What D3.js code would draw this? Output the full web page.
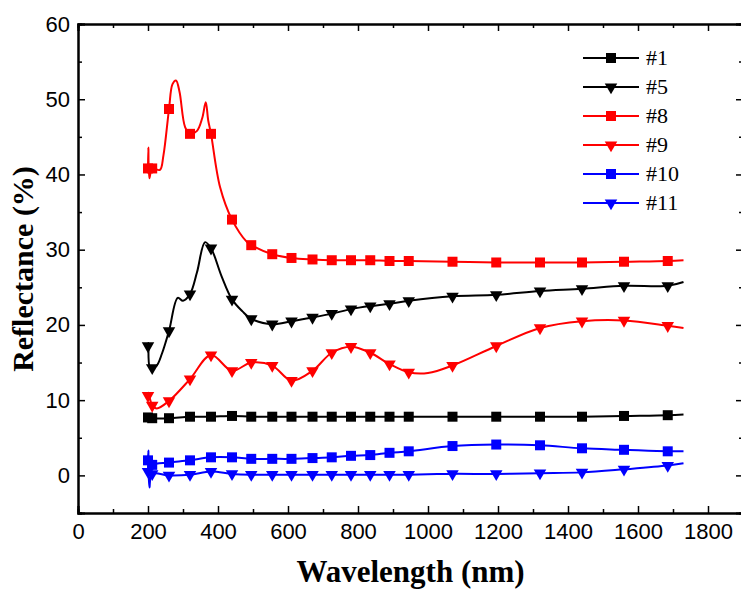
<!DOCTYPE html>
<html>
<head>
<meta charset="utf-8">
<script src="https://cdn.jsdelivr.net/npm/d3@7"></script>
<style>
  body { margin: 0; background: #fff; }
  svg { display: block; }
</style>
</head>
<body>
<svg id="chart" width="741" height="589"></svg>
<script>
// wavelengths (nm) where the markers sit, shared by every sample
var markerNm = [200, 212, 260, 320, 380, 440, 495, 555, 610, 670, 725, 780, 835, 890, 945, 1070, 1195, 1320, 1440, 1560, 1685];

// reflectance (%) at the markers
var m1  = [7.7, 7.6, 7.6, 7.8, 7.8, 7.9, 7.8, 7.8, 7.8, 7.8, 7.8, 7.8, 7.8, 7.8, 7.8, 7.8, 7.8, 7.8, 7.8, 7.9, 8.0];
var m5  = [17.2, 14.3, 19.2, 24.1, 30.2, 23.4, 20.8, 20.1, 20.5, 21.0, 21.5, 22.1, 22.5, 22.8, 23.2, 23.8, 24.0, 24.5, 24.8, 25.2, 25.2];
var m8  = [40.8, 40.8, 48.7, 45.4, 45.4, 34.0, 30.6, 29.4, 28.9, 28.7, 28.6, 28.6, 28.6, 28.5, 28.5, 28.4, 28.3, 28.3, 28.3, 28.4, 28.5];
var m9  = [10.6, 9.3, 9.9, 12.8, 16.0, 13.9, 15.0, 14.6, 12.6, 13.9, 16.3, 17.1, 16.3, 14.8, 13.7, 14.6, 17.2, 19.6, 20.5, 20.6, 19.9];
var m10 = [2.0, 1.4, 1.7, 2.0, 2.4, 2.4, 2.2, 2.2, 2.2, 2.3, 2.4, 2.6, 2.7, 3.0, 3.2, 3.9, 4.1, 4.0, 3.6, 3.4, 3.2];
var m11 = [0.5, 0.2, 0.0, 0.1, 0.5, 0.2, 0.1, 0.1, 0.1, 0.1, 0.1, 0.1, 0.1, 0.1, 0.1, 0.2, 0.2, 0.3, 0.4, 0.8, 1.3];

// extra spectrum points between markers (peaks, spikes, end of scan)
var e1  = [[1730, 8.1]];
var e5  = [[201, 17.6], [205, 14.4], [225, 14.6], [240, 16.2], [285, 23.6], [300, 23.2], [340, 27.0], [363, 31.0], [410, 26.5], [470, 21.8], [1730, 25.7]];
var e8  = [[201, 43.6], [204, 39.5], [234, 40.6], [244, 42.5], [270, 52.0], [280, 52.5], [290, 51.0], [306, 46.3], [340, 45.8], [355, 47.5], [365, 49.6], [372, 47.2], [406, 38.3], [483, 31.0], [1730, 28.6]];
var e9  = [[201, 11.0], [225, 8.9], [1000, 13.6], [1730, 19.6]];
var e10 = [[201, 3.3], [204, 1.0], [1730, 3.2]];
var e11 = [[201, 2.0], [204, -1.6], [1730, 1.6]];

var names   = ["#1", "#5", "#8", "#9", "#10", "#11"];
var colors  = ["#000000", "#000000", "#ff0000", "#ff0000", "#0000ff", "#0000ff"];
var shapes  = ["square", "tri", "square", "tri", "square", "tri"];
var markers = [m1, m5, m8, m9, m10, m11];
var extras  = [e1, e5, e8, e9, e10, e11];

var xTicks = [0, 200, 400, 600, 800, 1000, 1200, 1400, 1600, 1800];
var yTicks = [0, 10, 20, 30, 40, 50, 60];

var svg = d3.select("#chart");
var pLeft = 78, pRight = 743, pTop = 24, pBottom = 513;

var x = d3.scaleLinear().domain([0, 1900]).range([pLeft, pRight]);
var y = d3.scaleLinear().domain([-5, 60]).range([pBottom, pTop]);

function styleAxis(g) {
  g.select(".domain").attr("stroke", "#000").attr("stroke-width", 2);
  g.selectAll(".tick line").attr("stroke", "#000").attr("stroke-width", 1.5);
  g.selectAll(".tick text")
    .attr("fill", "#000")
    .style("font-family", "'Liberation Sans', Arial, sans-serif")
    .style("font-size", "22px");
}

var minorX = d3.range(100, 1900, 200);
var minorY = d3.range(-5, 60, 10);

// bottom
svg.append("g").attr("transform", "translate(0," + pBottom + ")")
  .call(d3.axisBottom(x).tickValues(xTicks).tickSize(-7).tickPadding(10).tickFormat(d3.format("d")))
  .call(styleAxis);
svg.append("g").attr("transform", "translate(0," + pBottom + ")")
  .call(d3.axisBottom(x).tickValues(minorX).tickSize(-4).tickFormat(""))
  .call(styleAxis);
// top
svg.append("g").attr("transform", "translate(0," + pTop + ")")
  .call(d3.axisTop(x).tickValues(xTicks).tickSize(-7).tickFormat(""))
  .call(styleAxis);
svg.append("g").attr("transform", "translate(0," + pTop + ")")
  .call(d3.axisTop(x).tickValues(minorX).tickSize(-4).tickFormat(""))
  .call(styleAxis);
// left
svg.append("g").attr("transform", "translate(" + pLeft + ",0)")
  .call(d3.axisLeft(y).tickValues(yTicks).tickSize(-7).tickPadding(8).tickFormat(d3.format("d")))
  .call(styleAxis);
svg.append("g").attr("transform", "translate(" + pLeft + ",0)")
  .call(d3.axisLeft(y).tickValues(minorY).tickSize(-4).tickFormat(""))
  .call(styleAxis);
// right
svg.append("g").attr("transform", "translate(" + pRight + ",0)")
  .call(d3.axisRight(y).tickValues(yTicks).tickSize(-7).tickFormat(""))
  .call(styleAxis);
svg.append("g").attr("transform", "translate(" + pRight + ",0)")
  .call(d3.axisRight(y).tickValues(minorY).tickSize(-4).tickFormat(""))
  .call(styleAxis);

// axis titles
svg.append("text")
  .attr("x", (pLeft + pRight) / 2).attr("y", 582)
  .attr("text-anchor", "middle")
  .style("font-family", "'Liberation Serif', 'Times New Roman', serif")
  .style("font-weight", "bold").style("font-size", "31px")
  .text("Wavelength (nm)");

svg.append("text")
  .attr("transform", "translate(33,269) rotate(-90)")
  .attr("text-anchor", "middle")
  .style("font-family", "'Liberation Serif', 'Times New Roman', serif")
  .style("font-weight", "bold").style("font-size", "30px")
  .text("Reflectance (%)");

var line = d3.line()
  .x(function(d) { return x(d[0]); })
  .y(function(d) { return y(d[1]); })
  .curve(d3.curveCatmullRom.alpha(0.5));

var sq = d3.symbol().type(d3.symbolSquare).size(100);
var tri = d3.symbol().type(d3.symbolTriangle).size(68);

function drawMarker(g, shape, color, px, py) {
  g.append("path")
    .attr("d", shape === "square" ? sq() : tri())
    .attr("transform", "translate(" + px + "," + py + ")" + (shape === "tri" ? " rotate(180)" : ""))
    .attr("fill", color);
}

names.forEach(function(name, i) {
  var pts = markerNm.map(function(nm, j) { return [nm, markers[i][j]]; });
  var all = pts.concat(extras[i]).sort(function(a, b) { return a[0] - b[0]; });
  var g = svg.append("g");
  g.append("path")
    .datum(all)
    .attr("d", line)
    .attr("fill", "none")
    .attr("stroke", colors[i])
    .attr("stroke-width", 2);
  pts.forEach(function(p) {
    drawMarker(g, shapes[i], colors[i], x(p[0]), y(p[1]));
  });
});

// legend
var lg = svg.append("g");
names.forEach(function(name, i) {
  var ly = 58 + i * 29;
  lg.append("line")
    .attr("x1", 583).attr("x2", 639).attr("y1", ly).attr("y2", ly)
    .attr("stroke", colors[i]).attr("stroke-width", 2);
  drawMarker(lg, shapes[i], colors[i], 611, ly);
  lg.append("text")
    .attr("x", 646).attr("y", ly + 7)
    .style("font-family", "'Liberation Serif', 'Times New Roman', serif")
    .style("font-size", "22px")
    .text(name);
});
</script>
</body>
</html>
